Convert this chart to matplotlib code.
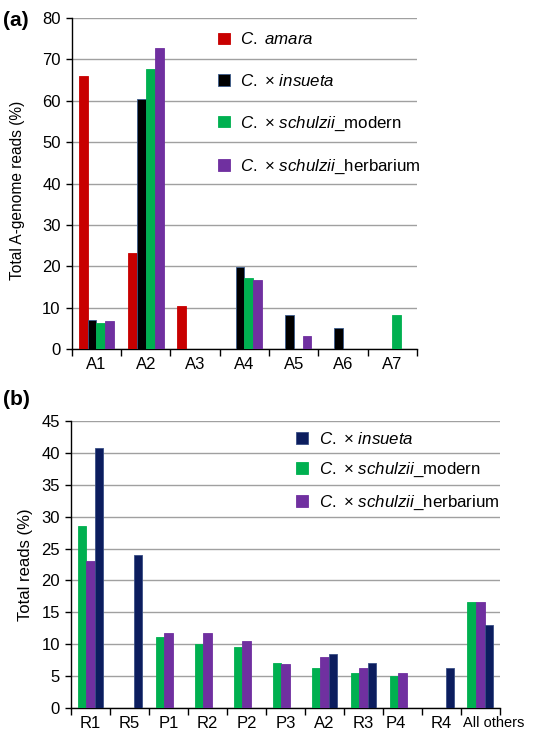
import numpy as np
import matplotlib.pyplot as plt
from matplotlib.transforms import ScaledTranslation

plt.rcParams['font.family'] = ['Liberation Sans', 'DejaVu Sans']
plt.rcParams['mathtext.fontset'] = 'custom'
plt.rcParams['mathtext.it'] = 'Liberation Sans:italic'
plt.rcParams['mathtext.rm'] = 'Liberation Sans'

# ------------------------------
# Panel (a) data
# ------------------------------
a_categories = ['A1', 'A2', 'A3', 'A4', 'A5', 'A6', 'A7']
a_amara = [66.0, 23.1, 10.5, 0, 0, 0, 0]
a_insueta = [6.9, 60.4, 0, 19.7, 8.1, 5.0, 0]
a_modern = [6.2, 67.8, 0, 17.1, 0, 0, 8.1]
a_herbarium = [6.7, 72.7, 0, 16.7, 3.1, 0, 0]

# ------------------------------
# Panel (b) data
# ------------------------------
b_categories = ['R1', 'R5', 'P1', 'R2', 'P2', 'P3', 'A2', 'R3', 'P4', 'R4', 'All others']
b_modern = [28.6, 0, 11.1, 10.0, 9.6, 7.1, 6.2, 5.5, 5.1, 0, 16.6]
b_herbarium = [23.0, 0, 11.7, 11.8, 10.5, 6.9, 8.0, 6.2, 5.5, 0, 16.6]
b_insueta = [40.8, 24.0, 0, 0, 0, 0, 8.5, 7.1, 0, 6.2, 13.0]

RED = '#C80000'
BLACK = '#000000'
NAVY = '#0C1D5E'
GREEN = '#00B050'
PURPLE = '#7030A0'

LBL_AMARA = r'$\mathit{C.}$ $\mathit{amara}$'
LBL_INSUETA = r'$\mathit{C.}$ × $\mathit{insueta}$'
LBL_MODERN = r'$\mathit{C.}$ × $\mathit{schulzii}$_modern'
LBL_HERB = r'$\mathit{C.}$ × $\mathit{schulzii}$_herbarium'


def grouped_bars(ax, categories, series, width, ymax, ystep):
    """Draw grouped bars with Excel-like styling."""
    n = len(categories)
    x = np.arange(n)
    k = len(series)
    for i, (vals, color, label, edge) in enumerate(series):
        offs = (i - (k - 1) / 2) * width
        ax.bar(x + offs, vals, width, color=color, label=label,
               edgecolor=edge, linewidth=0.6, zorder=3)
    ax.set_xlim(-0.5, n - 0.5)
    ax.set_ylim(0, ymax)
    ax.set_yticks(np.arange(0, ymax + 0.1, ystep))
    ax.yaxis.grid(True, color='#A0A0A0', linewidth=1.0, zorder=0)
    ax.set_axisbelow(True)
    # boundary ticks (major) and centred labels (minor)
    ax.set_xticks(np.arange(n + 1) - 0.5)
    ax.set_xticklabels([])
    ax.set_xticks(x, minor=True)
    ax.set_xticklabels(categories, minor=True)
    ax.tick_params(axis='x', which='major', direction='out', length=5, width=1)
    ax.tick_params(axis='x', which='minor', length=0, pad=6, labelsize=12)
    ax.tick_params(axis='y', direction='out', length=4, width=1, pad=4, labelsize=12)
    for s in ['top', 'right']:
        ax.spines[s].set_visible(False)
    for s in ['left', 'bottom']:
        ax.spines[s].set_linewidth(1.0)
        ax.spines[s].set_color('black')
    return x


def main():
    fig = plt.figure(figsize=(5.36, 7.37), dpi=100)

    # panel (a)
    ax1 = fig.add_axes([0.134, 0.5265, 0.644, 0.449])
    grouped_bars(ax1, a_categories, [
        (a_amara, RED, LBL_AMARA, RED),
        (a_insueta, BLACK, LBL_INSUETA, '#3A5A8C'),
        (a_modern, GREEN, LBL_MODERN, GREEN),
        (a_herbarium, PURPLE, LBL_HERB, PURPLE),
    ], width=0.18, ymax=80, ystep=10)
    ax1.set_ylabel('Total A-genome reads (%)', fontsize=11.2)
    ax1.yaxis.set_label_coords(-0.135, 0.48)
    ax1.legend(loc='upper left', bbox_to_anchor=(0.405, 0.98), frameon=False,
               fontsize=12.2, labelspacing=1.5, handlelength=0.7,
               handleheight=0.7, handletextpad=0.6, borderaxespad=0)
    fig.text(0.006, 0.972, '(a)', fontsize=15, fontweight='bold', va='center')

    # panel (b)
    ax2 = fig.add_axes([0.1325, 0.0393, 0.800, 0.3895])
    grouped_bars(ax2, b_categories, [
        (b_modern, GREEN, LBL_MODERN, GREEN),
        (b_herbarium, PURPLE, LBL_HERB, PURPLE),
        (b_insueta, NAVY, LBL_INSUETA, '#3A4F86'),
    ], width=0.22, ymax=45, ystep=5)
    # small label nudges as in the original figure
    nudges = {'All others': 0.13, 'P4': -0.07}
    for lbl in ax2.get_xticklabels(minor=True):
        txt = lbl.get_text()
        if txt == 'All others':
            lbl.set_fontsize(10.5)
        if txt in nudges:
            lbl.set_transform(lbl.get_transform() +
                              ScaledTranslation(nudges[txt], 0, fig.dpi_scale_trans))
    ax2.set_ylabel('Total reads (%)', fontsize=12, labelpad=6)
    handles, labels = ax2.get_legend_handles_labels()
    order = [2, 0, 1]
    ax2.legend([handles[i] for i in order], [labels[i] for i in order],
               loc='upper left', bbox_to_anchor=(0.51, 0.99), frameon=False,
               fontsize=12.2, labelspacing=0.85, handlelength=0.7,
               handleheight=0.7, handletextpad=0.6, borderaxespad=0)
    fig.text(0.006, 0.458, '(b)', fontsize=15, fontweight='bold', va='center')

    fig.savefig('out.png', dpi=100)
    plt.close(fig)


if __name__ == '__main__':
    main()
